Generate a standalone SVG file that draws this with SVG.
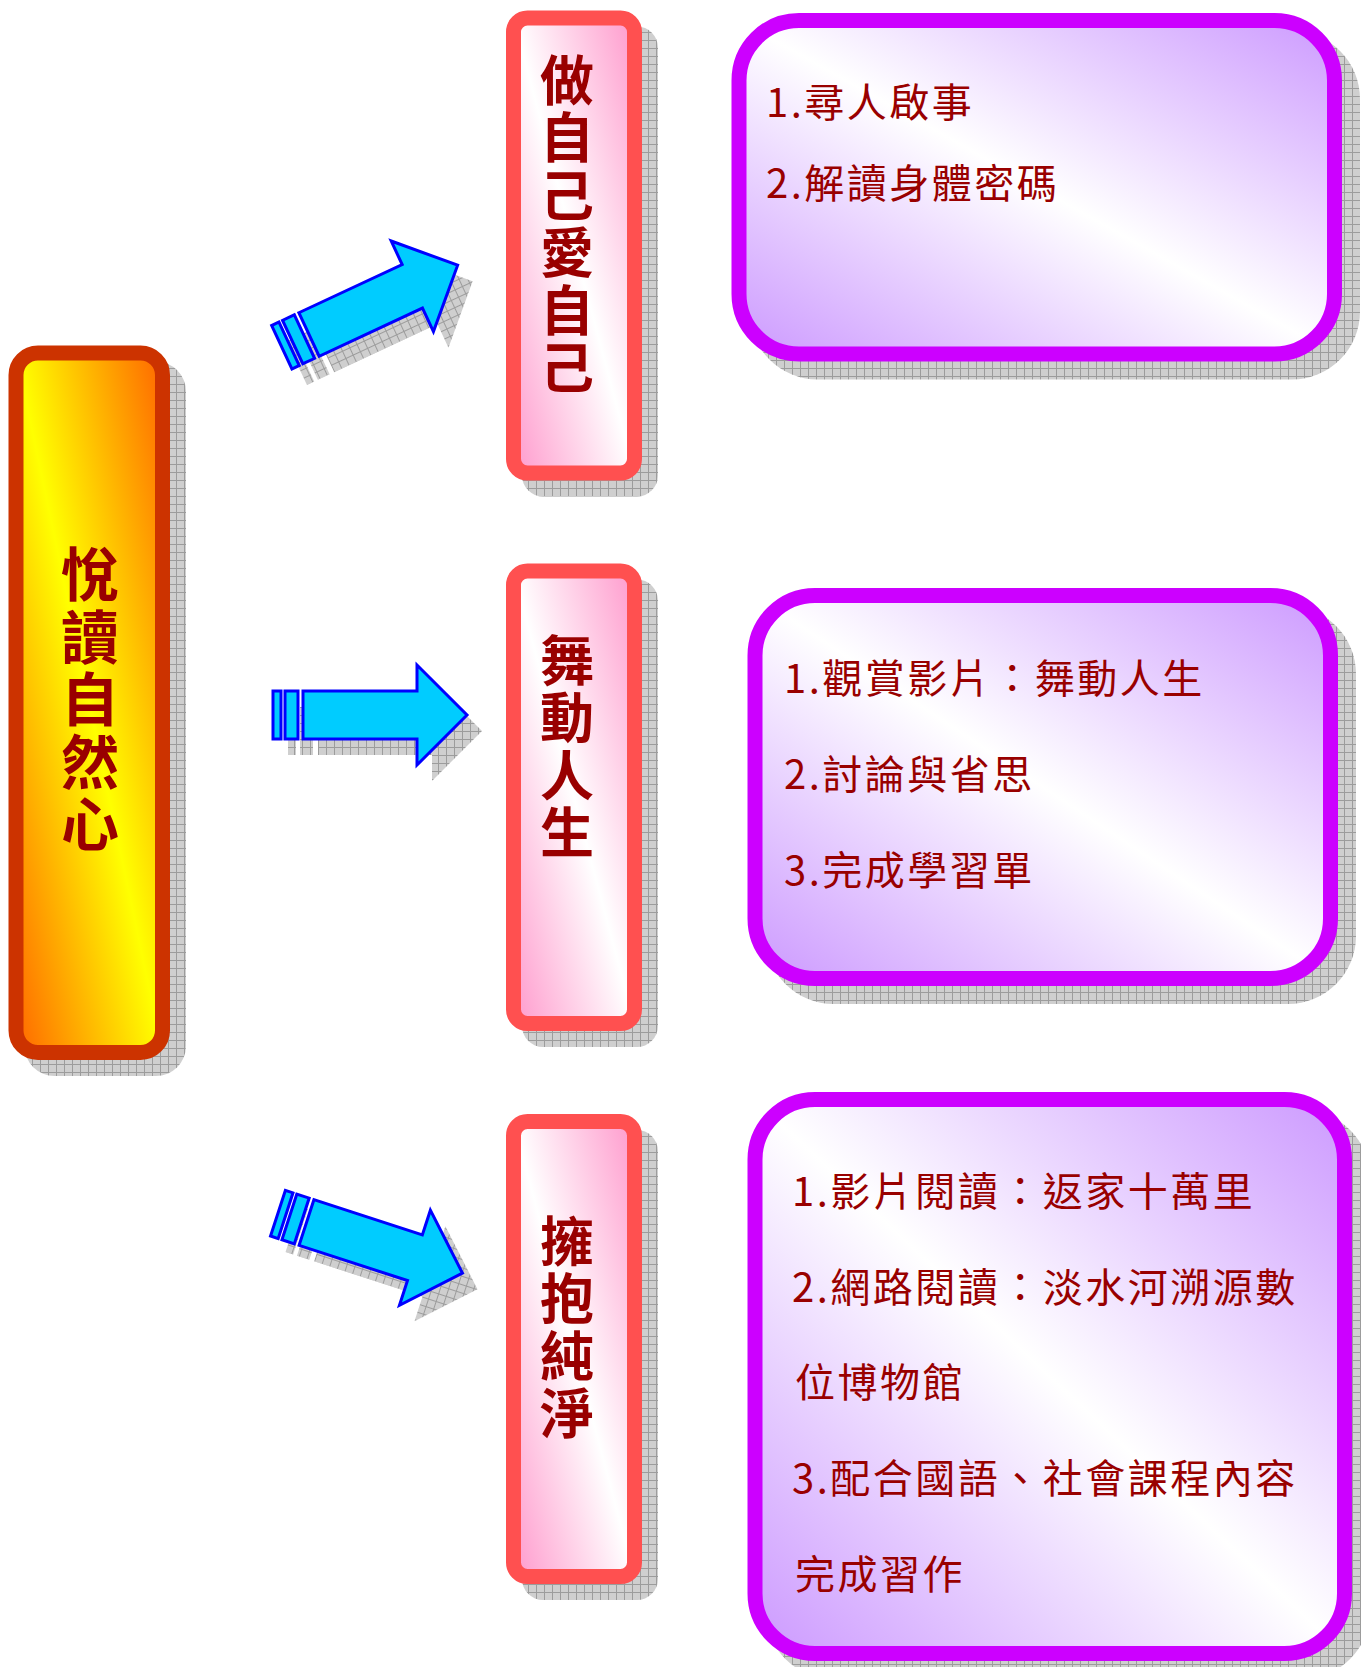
<svg xmlns="http://www.w3.org/2000/svg" width="1361" height="1667" viewBox="0 0 1361 1667">
<defs>
<pattern id="hatch" width="8" height="8" patternUnits="userSpaceOnUse"><rect width="8" height="8" fill="#cfcfcf"/><path d="M0 0.5H8M0.5 0V8" stroke="#9c9c9c" stroke-width="1"/></pattern>
<linearGradient id="gLeft" x1="1" y1="0" x2="0" y2="1"><stop offset="0" stop-color="#FF6600"/><stop offset="0.5" stop-color="#FFFF00"/><stop offset="1" stop-color="#FF6600"/></linearGradient>
<linearGradient id="gPink" x1="1" y1="0" x2="0" y2="1"><stop offset="0" stop-color="#FF99CC"/><stop offset="0.5" stop-color="#FFFFFF"/><stop offset="1" stop-color="#FF99CC"/></linearGradient>
<linearGradient id="gPurple" x1="1" y1="0" x2="0" y2="1"><stop offset="0" stop-color="#CC99FF"/><stop offset="0.5" stop-color="#FFFFFF"/><stop offset="1" stop-color="#CC99FF"/></linearGradient>
<g id="arrowShape">
<rect x="-30" y="-24" width="8" height="48"/>
<rect x="-18" y="-24" width="13" height="48"/>
<polygon points="0,-24 114,-24 114,-50 164,0 114,50 114,24 0,24"/>
</g>
</defs>
<style>
.shadow{fill:url(#hatch);stroke:none}
.label{font-family:"Noto Sans CJK TC","Noto Sans CJK SC",sans-serif;font-weight:700;fill:#990000;text-anchor:middle}
.item{font-family:"Noto Sans CJK TC","Noto Sans CJK SC",serif;font-size:40px;letter-spacing:2.5px;fill:#990000}
.arrow{fill:#00CCFF;stroke:#0000FF;stroke-width:3}
.ashadow{fill:url(#hatch);stroke:none}
</style>

<g id="connectors">
<use href="#arrowShape" class="ashadow" transform="translate(324,350.5) rotate(-25)"/>
<use href="#arrowShape" class="arrow" transform="translate(309,334.5) rotate(-25)"/>
<use href="#arrowShape" class="ashadow" transform="translate(318,731)"/>
<use href="#arrowShape" class="arrow" transform="translate(303,715)"/>
<use href="#arrowShape" class="ashadow" transform="translate(321.5,1238.5) rotate(18)"/>
<use href="#arrowShape" class="arrow" transform="translate(306.5,1222.5) rotate(18)"/>
</g>

<g id="root">
<rect class="shadow" x="24.5" y="361.5" width="161.5" height="714.5" rx="30"/>
<rect x="16" y="353" width="146.5" height="699.5" rx="22" fill="url(#gLeft)" stroke="#CC3300" stroke-width="15"/>
<text class="label" font-size="58"><tspan x="90" y="596">悅</tspan><tspan x="90" y="658.5">讀</tspan><tspan x="90" y="721">自</tspan><tspan x="90" y="783.5">然</tspan><tspan x="90" y="845.5">心</tspan></text>
</g>

<g id="node1">
<rect class="shadow" x="522" y="26.5" width="136" height="470" rx="21"/>
<rect x="513.5" y="18" width="121" height="455" rx="14" fill="url(#gPink)" stroke="#FF5050" stroke-width="15"/>
<text class="label" font-size="54"><tspan x="567" y="100.5">做</tspan><tspan x="567" y="158">自</tspan><tspan x="567" y="215.5">己</tspan><tspan x="567" y="273">愛</tspan><tspan x="567" y="330.5">自</tspan><tspan x="567" y="388">己</tspan></text>
</g>

<g id="node2">
<rect class="shadow" x="522" y="579.5" width="136" height="467.5" rx="21"/>
<rect x="513.5" y="571" width="121" height="452.5" rx="14" fill="url(#gPink)" stroke="#FF5050" stroke-width="15"/>
<text class="label" font-size="54"><tspan x="567" y="680.5">舞</tspan><tspan x="567" y="738">動</tspan><tspan x="567" y="795.5">人</tspan><tspan x="567" y="853">生</tspan></text>
</g>

<g id="node3">
<rect class="shadow" x="522" y="1130" width="136" height="470" rx="21"/>
<rect x="513.5" y="1121.5" width="121" height="455" rx="14" fill="url(#gPink)" stroke="#FF5050" stroke-width="15"/>
<text class="label" font-size="54"><tspan x="567" y="1261.5">擁</tspan><tspan x="567" y="1319">抱</tspan><tspan x="567" y="1376.5">純</tspan><tspan x="567" y="1434">淨</tspan></text>
</g>

<g id="box1">
<rect class="shadow" x="749.5" y="31" width="610.5" height="348.5" rx="68"/>
<rect x="739" y="20.5" width="595.5" height="333.5" rx="60" fill="url(#gPurple)" stroke="#CC00FF" stroke-width="15"/>
<text class="item" x="766" y="117">1.尋人啟事</text>
<text class="item" x="766" y="198">2.解讀身體密碼</text>
</g>

<g id="box2">
<rect class="shadow" x="765.5" y="606" width="590.5" height="398" rx="68"/>
<rect x="755" y="595.5" width="575.5" height="383" rx="60" fill="url(#gPurple)" stroke="#CC00FF" stroke-width="15"/>
<text class="item" x="784" y="693">1.觀賞影片：舞動人生</text>
<text class="item" x="784" y="789">2.討論與省思</text>
<text class="item" x="784" y="885">3.完成學習單</text>
</g>

<g id="box3">
<rect class="shadow" x="765.5" y="1110" width="604.5" height="569" rx="68"/>
<rect x="755" y="1099.5" width="589.5" height="554" rx="60" fill="url(#gPurple)" stroke="#CC00FF" stroke-width="15"/>
<text class="item" x="792" y="1206">1.影片閱讀：返家十萬里</text>
<text class="item" x="792" y="1302">2.網路閱讀：淡水河溯源數</text>
<text class="item" x="795" y="1397">位博物館</text>
<text class="item" x="792" y="1493">3.配合國語、社會課程內容</text>
<text class="item" x="795" y="1589">完成習作</text>
</g>
</svg>
